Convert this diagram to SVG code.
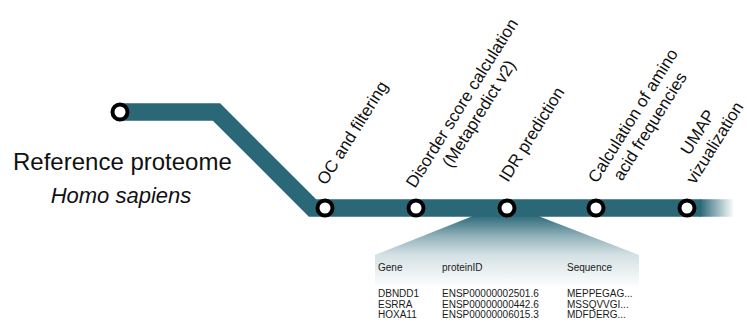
<svg xmlns="http://www.w3.org/2000/svg" width="747" height="323" viewBox="0 0 747 323">
<style>
.lbl{font-family:"Liberation Sans",Arial,sans-serif;font-size:17px;fill:#111}
.tbl{font-family:"Liberation Sans",Arial,sans-serif;font-size:10px;fill:#1a1a1a}
.stop{fill:#fff;stroke:#000;stroke-width:4}
.track{fill:none;stroke:#2a6878;stroke-width:17.5;stroke-linejoin:miter}
</style>
<defs>
<linearGradient id="fade" x1="700" y1="0" x2="734" y2="0" gradientUnits="userSpaceOnUse">
<stop offset="0" stop-color="#2a6878" stop-opacity="1"/>
<stop offset="1" stop-color="#2a6878" stop-opacity="0"/>
</linearGradient>
<linearGradient id="funnel" x1="0" y1="215" x2="0" y2="288" gradientUnits="userSpaceOnUse">
<stop offset="0" stop-color="#2a6878" stop-opacity="1"/>
<stop offset="0.3" stop-color="#2a6878" stop-opacity="0.5"/>
<stop offset="0.55" stop-color="#2a6878" stop-opacity="0.2"/>
<stop offset="1" stop-color="#2a6878" stop-opacity="0"/>
</linearGradient>
</defs>
<rect width="747" height="323" fill="#fff"/>
<g id="connectors">
<polygon points="478,214 533,214 639,255 639,290 375,290 375,255" fill="url(#funnel)"/>
<polyline class="track" points="120,112 216.5,112 312.5,208 701,208"/>
<rect x="700" y="199.25" width="34" height="17.5" fill="url(#fade)"/>
</g>
<g id="reference">
<circle class="stop" cx="120" cy="112" r="7.5"/>
<text x="13" y="170" font-family="Liberation Sans, Arial, sans-serif" font-size="24" fill="#111">Reference proteome</text>
<text x="121" y="203" text-anchor="middle" font-family="Liberation Sans, Arial, sans-serif" font-size="22" font-style="italic" fill="#111">Homo sapiens</text>
</g>
<g id="qc">
<circle class="stop" cx="325" cy="208" r="7.5"/>
<text class="lbl" transform="translate(326,186) rotate(-58)">OC and filtering</text>
</g>
<g id="disorder">
<circle class="stop" cx="416" cy="208" r="7.5"/>
<text class="lbl" text-anchor="middle" transform="translate(415,189) rotate(-58)"><tspan x="97.8" y="0">Disorder score calculation</tspan><tspan x="97.8" y="20">(Metapredict v2)</tspan></text>
</g>
<g id="idr">
<circle class="stop" cx="507" cy="208" r="7.5"/>
<text class="lbl" transform="translate(508,183) rotate(-58)">IDR prediction</text>
</g>
<g id="aafreq">
<circle class="stop" cx="596" cy="208" r="7.5"/>
<text class="lbl" text-anchor="middle" transform="translate(597,184) rotate(-58)"><tspan x="77" y="0">Calculation of amino</tspan><tspan x="77" y="20">acid frequencies</tspan></text>
</g>
<g id="umap">
<circle class="stop" cx="687" cy="208" r="7.5"/>
<text class="lbl" text-anchor="middle" transform="translate(695,185) rotate(-58)"><tspan x="46.3" y="-20">UMAP</tspan><tspan x="46.3" y="0">vizualization</tspan></text>
</g>
<g id="table">
<text class="tbl" x="378" y="271">Gene</text>
<text class="tbl" x="442" y="271">proteinID</text>
<text class="tbl" x="567" y="271">Sequence</text>
<text class="tbl" x="378" y="297">DBNDD1</text>
<text class="tbl" x="442" y="297">ENSP00000002501.6</text>
<text class="tbl" x="567" y="297">MEPPEGAG...</text>
<text class="tbl" x="378" y="307.5">ESRRA</text>
<text class="tbl" x="442" y="307.5">ENSP00000000442.6</text>
<text class="tbl" x="567" y="307.5">MSSQVVGI...</text>
<text class="tbl" x="378" y="318">HOXA11</text>
<text class="tbl" x="442" y="318">ENSP00000006015.3</text>
<text class="tbl" x="567" y="318">MDFDERG...</text>
</g>
</svg>
